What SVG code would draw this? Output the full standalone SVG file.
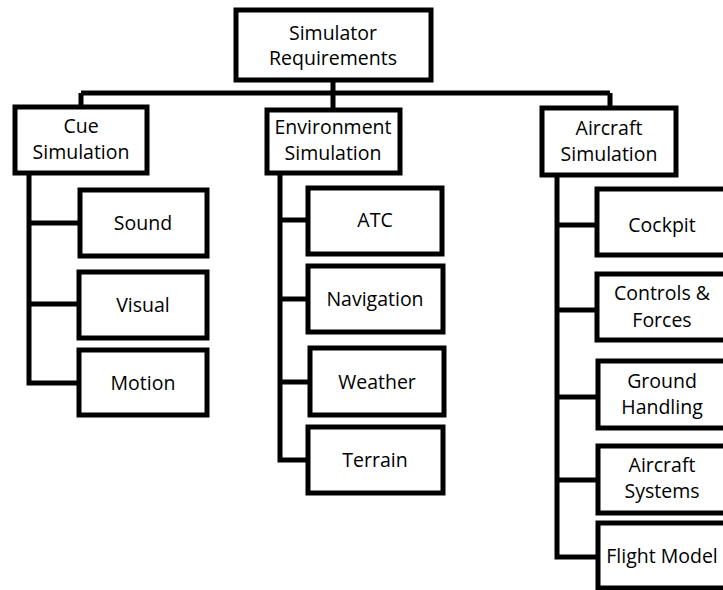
<svg xmlns="http://www.w3.org/2000/svg" width="723" height="590" viewBox="0 0 723 590">
<style>
.box{fill:#fff;stroke:#000;stroke-width:5}
.t{font-family:"Open Sans","Noto Sans",sans-serif;font-size:19.5px;fill:#000;text-anchor:middle}
.c{fill:none;stroke:#000;stroke-width:5}
</style>
<rect width="723" height="590" fill="#fff"/>
<g id="connectors">
<path class="c" d="M333 80V93M81 93H610M81 93V108M333 93V110M610 93V108"/>
<path class="c" d="M29 173V383H80M29 223H80M29 304H80"/>
<path class="c" d="M280 173V460H309M280 220H309M280 299H309M280 382H309"/>
<path class="c" d="M557 175V557H599M557 225H599M557 310H599M557 397H599M557 480H599"/>
</g>
<g id="root"><rect class="box" x="236" y="10" width="195" height="70"/><text class="t" x="333" y="40">Simulator</text><text class="t" x="333" y="65">Requirements</text></g>
<g id="cue"><rect class="box" x="15" y="107" width="132" height="66"/><text class="t" x="81" y="133">Cue</text><text class="t" x="81" y="159">Simulation</text></g>
<g id="env"><rect class="box" x="267" y="110" width="133" height="63"/><text class="t" x="333" y="134">Environment</text><text class="t" x="333" y="160">Simulation</text></g>
<g id="aircraft"><rect class="box" x="542" y="108" width="134" height="67"/><text class="t" x="609" y="135">Aircraft</text><text class="t" x="609" y="161">Simulation</text></g>
<g id="sound"><rect class="box" x="80" y="190" width="127" height="66"/><text class="t" x="143" y="230">Sound</text></g>
<g id="visual"><rect class="box" x="79" y="272" width="128" height="66"/><text class="t" x="143" y="312">Visual</text></g>
<g id="motion"><rect class="box" x="79" y="350" width="128" height="65"/><text class="t" x="143" y="390">Motion</text></g>
<g id="atc"><rect class="box" x="308" y="188" width="134" height="66"/><text class="t" x="375" y="227">ATC</text></g>
<g id="navigation"><rect class="box" x="308" y="266" width="135" height="66"/><text class="t" x="375" y="306">Navigation</text></g>
<g id="weather"><rect class="box" x="310" y="348" width="134" height="67"/><text class="t" x="377" y="389">Weather</text></g>
<g id="terrain"><rect class="box" x="308" y="427" width="135" height="66"/><text class="t" x="375" y="467">Terrain</text></g>
<g id="cockpit"><rect class="box" x="597" y="189" width="132" height="66"/><text class="t" x="662" y="232">Cockpit</text></g>
<g id="controls"><rect class="box" x="597" y="274" width="132" height="66"/><text class="t" x="662" y="300">Controls &amp;</text><text class="t" x="662" y="327">Forces</text></g>
<g id="ground"><rect class="box" x="598" y="361" width="132" height="67"/><text class="t" x="662" y="388">Ground</text><text class="t" x="662" y="414">Handling</text></g>
<g id="systems"><rect class="box" x="598" y="446" width="132" height="67"/><text class="t" x="662" y="472">Aircraft</text><text class="t" x="662" y="498">Systems</text></g>
<g id="flight"><rect class="box" x="598" y="523" width="132" height="65"/><text class="t" x="662" y="563">Flight Model</text></g>
</svg>
